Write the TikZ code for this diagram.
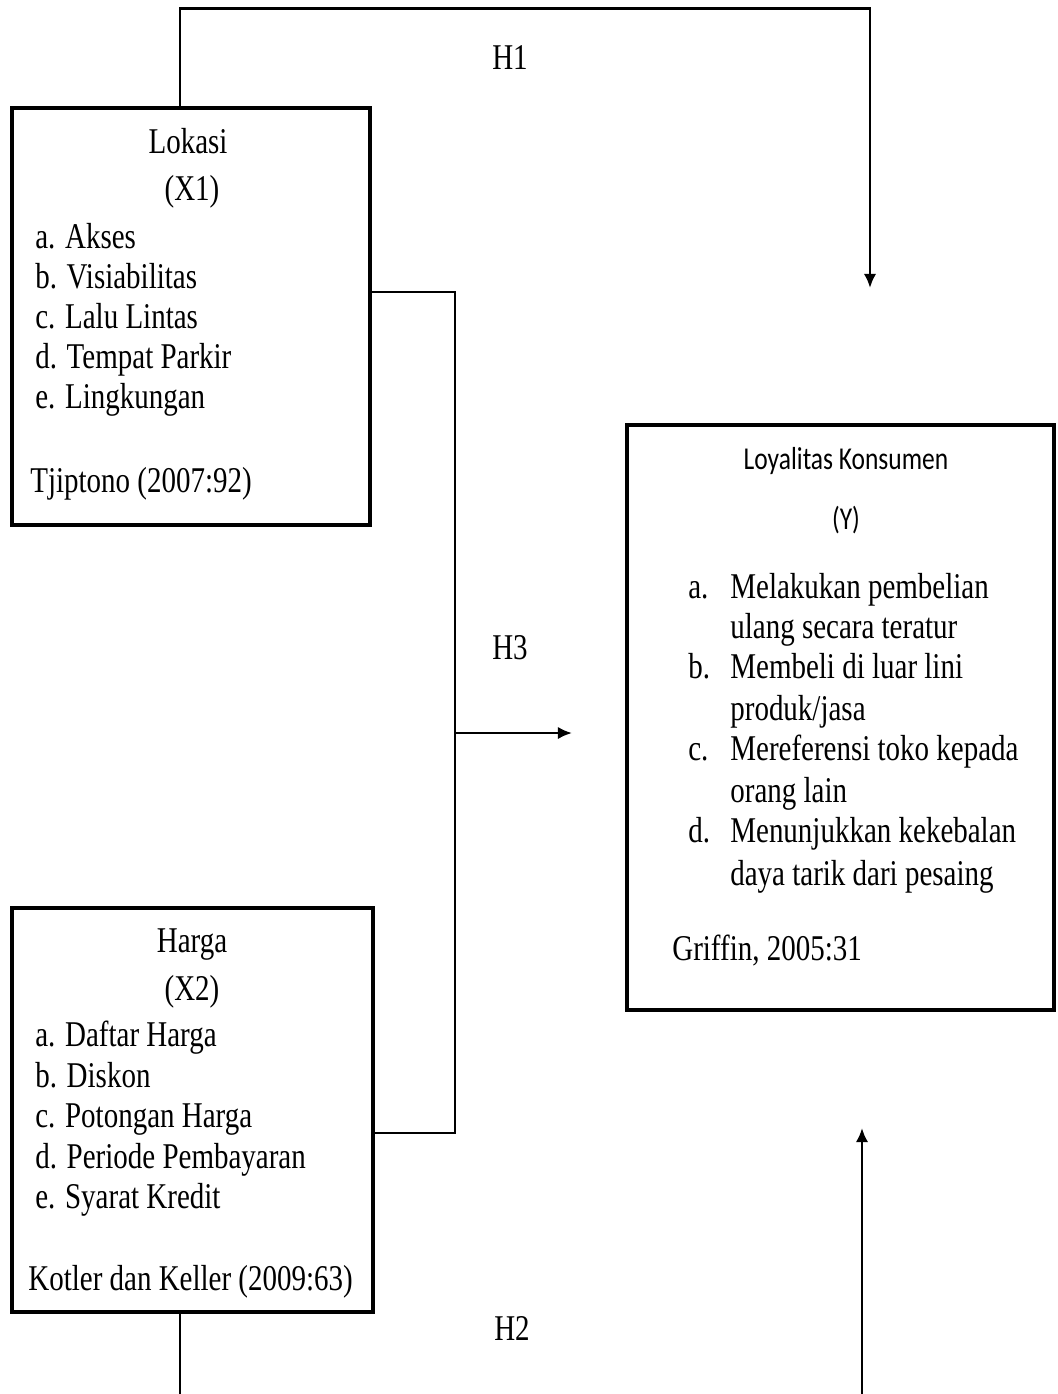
\documentclass[tikz,border=0pt]{standalone}
\usepackage{fontspec}
\usepackage{graphicx}
\setmainfont{Liberation Serif}
\newfontfamily\calibfont{Carlito}
\usetikzlibrary{arrows.meta}

\tikzset{
	varbox/.style={draw, line width=1.9pt, inner sep=0pt},
	conn/.style={line width=1.4pt},
	arr/.style={conn, -{Latex[length=8pt,width=7pt]}},
	itm/.style={anchor=base west, inner sep=0pt, font=\fontsize{16.5}{20}\selectfont},
	ttl/.style={anchor=base, inner sep=0pt, font=\fontsize{16.5}{20}\selectfont},
	sttl/.style={anchor=base, inner sep=0pt, font=\calibfont\fontsize{14.5}{18}\selectfont},
	hyp/.style={anchor=center, inner sep=0pt, font=\fontsize{16.5}{20}\selectfont}
}
\newcommand{\tl}[1]{\scalebox{1}[1.25]{#1}}

\begin{document}
\begin{tikzpicture}[x=0.02cm, y=-0.02cm]
	\useasboundingbox (0,0) rectangle (1058,1394);

	% variable boxes
	\node[varbox, minimum width=7.16cm, minimum height=8.34cm] (lokasi) at (191,316.5) {};
	\node[varbox, minimum width=7.22cm, minimum height=8.08cm] (harga) at (192.5,1110) {};
	\node[varbox, minimum width=8.54cm, minimum height=11.7cm] (loyal) at (840.5,717.5) {};

	% X1
	\node[ttl] (lokT) at (188,153) {\tl{Lokasi}};
	\node[ttl] (lokX) at (192,200) {\tl{(X1)}};
	\node[itm] (lokA) at (35,248) {\tl{a. Akses}};
	\node[itm] (lokB) at (35,288) {\tl{b. Visiabilitas}};
	\node[itm] (lokC) at (35,328) {\tl{c. Lalu Lintas}};
	\node[itm] (lokD) at (35,368) {\tl{d. Tempat Parkir}};
	\node[itm] (lokE) at (35,408) {\tl{e. Lingkungan}};
	\node[itm] (lokS) at (30,492) {\tl{Tjiptono (2007:92)}};

	% X2
	\node[ttl] (hrgT) at (192,952) {\tl{Harga}};
	\node[ttl] (hrgX) at (192,1000) {\tl{(X2)}};
	\node[itm] (hrgA) at (35,1046) {\tl{a. Daftar Harga}};
	\node[itm] (hrgB) at (35,1087) {\tl{b. Diskon}};
	\node[itm] (hrgC) at (35,1127) {\tl{c. Potongan Harga}};
	\node[itm] (hrgD) at (35,1168) {\tl{d. Periode Pembayaran}};
	\node[itm] (hrgE) at (35,1208) {\tl{e. Syarat Kredit}};
	\node[itm] (hrgS) at (28,1290) {\tl{Kotler dan Keller (2009:63)}};

	% Y
	\node[sttl] (loyT) at (846,469) {\tl{Loyalitas Konsumen}};
	\node[sttl] (loyY) at (846,529) {\tl{(Y)}};
	\node[itm] (loyA) at (688,598) {\tl{a.}};
	\node[itm] (loyA1) at (730,598) {\tl{Melakukan pembelian}};
	\node[itm] (loyA2) at (730,638) {\tl{ulang secara teratur}};
	\node[itm] (loyB) at (688,678) {\tl{b.}};
	\node[itm] (loyB1) at (730,678) {\tl{Membeli di luar lini}};
	\node[itm] (loyB2) at (730,720) {\tl{produk/jasa}};
	\node[itm] (loyC) at (688,760) {\tl{c.}};
	\node[itm] (loyC1) at (730,760) {\tl{Mereferensi toko kepada}};
	\node[itm] (loyC2) at (730,802) {\tl{orang lain}};
	\node[itm] (loyD) at (688,842) {\tl{d.}};
	\node[itm] (loyD1) at (730,842) {\tl{Menunjukkan kekebalan}};
	\node[itm] (loyD2) at (730,885) {\tl{daya tarik dari pesaing}};
	\node[itm] (loyS) at (672,960) {\tl{Griffin, 2005:31}};

	% hypotheses
	\node[hyp] (h1) at (510,58) {\tl{H1}};
	\node[hyp] (h3) at (510,648) {\tl{H3}};
	\node[hyp] (h2) at (512,1328) {\tl{H2}};

	\coordinate (h1end) at (870,288);
	\coordinate (jn) at (455,733);
	\coordinate (h3end) at (572,733);
	\coordinate (h2start) at (862,1394);
	\coordinate (h2end) at (862,1128);

	\draw[arr] ([xshift=-0.22cm]lokasi.north) -- ++(0,-98) -| (h1end);
	\draw[conn] ([yshift=0.49cm]lokasi.east) -| (jn);
	\draw[conn] ([yshift=-0.46cm]harga.east) -| (jn);
	\draw[arr] (jn) -- (h3end);
	\draw[conn] ([xshift=-0.25cm]harga.south) -- ++(0,82);
	\draw[arr] (h2start) -- (h2end);
\end{tikzpicture}
\end{document}
